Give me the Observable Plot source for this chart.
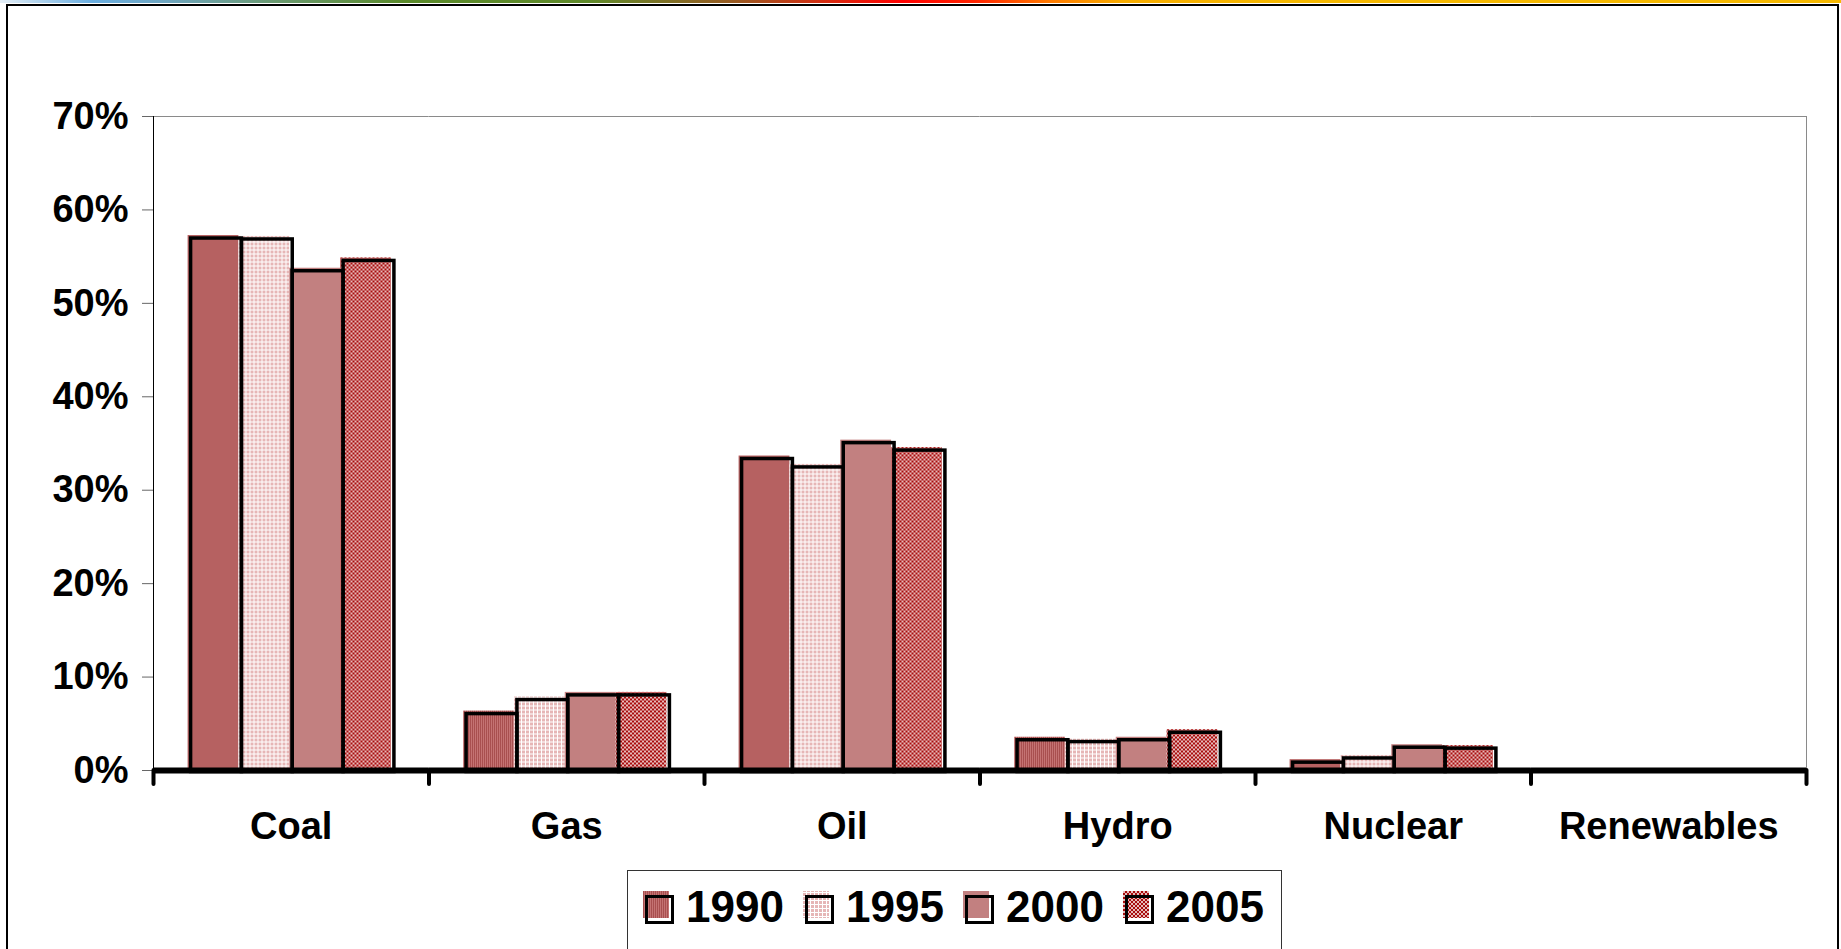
<!DOCTYPE html>
<html>
<head>
<meta charset="utf-8">
<script src="https://cdn.jsdelivr.net/npm/d3@7"></script>
<script src="https://cdn.jsdelivr.net/npm/@observablehq/plot@0.6"></script>
<style>
  html, body { margin: 0; padding: 0; background: #fff; }
  body { width: 1841px; height: 949px; overflow: hidden; position: relative; font-family: "Liberation Sans", Arial, sans-serif; }
  #strip { position: absolute; left: 0; top: 0; width: 1841px; height: 3px;
    background: linear-gradient(to right, #e4eef6 0%, #6aaee0 5%, #6fa6c0 9%, #6a9a70 15%, #5a8a2a 22%, #5f8a2a 32%, #9a5a22 40%, #d82a10 45%, #ff0000 49%, #ff2400 53%, #ff7a00 57%, #f7ac00 61%, #f5b800 70%, #f5b800 100%); }
  #frame { position: absolute; left: 6px; top: 4px; width: 1829px; height: 1000px; border: 2px solid #000; }
  #chart { position: absolute; left: 0; top: 0; }
  #chart svg { display: block; }
  #legend { position: absolute; left: 627px; top: 870px; width: 655px; height: 120px; box-sizing: border-box;
    border: 1px solid #333; background: #fff; padding: 18px 0 0 15px; display: flex; align-items: flex-start; }
  .item { width: 160px; height: 36px; display: flex; align-items: center; flex: none; }
  .item svg { flex: none; display: block; }
  .item span { margin-left: 9px; font-size: 44px; font-weight: bold; line-height: 36px; height: 36px; color: #000; display: block; }
</style>
</head>
<body>
<svg width="0" height="0" style="position:absolute">
  <defs>
    <pattern id="p1990" width="2" height="2" patternUnits="userSpaceOnUse">
      <rect x="0" y="0" width="1" height="2" fill="#a84f4f"></rect>
      <rect x="1" y="0" width="1" height="2" fill="#c47373"></rect>
    </pattern>
    <pattern id="p1995" width="4" height="4" patternUnits="userSpaceOnUse">
      <rect x="0" y="0" width="4" height="4" fill="#ffffff"></rect>
      <rect x="0" y="0" width="3" height="3" fill="#e6b6b6"></rect>
    </pattern>
    <pattern id="p2000" width="2" height="2" patternUnits="userSpaceOnUse">
      <rect x="0" y="0" width="2" height="2" fill="#c28080"></rect>
    </pattern>
    <pattern id="p2005" width="4" height="4" patternUnits="userSpaceOnUse">
      <rect x="0" y="0" width="4" height="4" fill="#e6baba"></rect>
      <rect x="0" y="0" width="2" height="2" fill="#a80c0c"></rect>
      <rect x="2" y="2" width="2" height="2" fill="#a80c0c"></rect>
    </pattern>
  </defs>
</svg>
<div id="strip"></div>
<div id="frame"></div>
<div id="chart"></div>
<div id="legend"></div>
<script>
// ---- data ----
const categories = ["Coal", "Gas", "Oil", "Hydro", "Nuclear", "Renewables"];
const years = ["1990", "1995", "2000", "2005"];
const share1990 = [57.1, 6.2, 33.5, 3.4, 1.0, 0];
const share1995 = [57.0, 7.7, 32.6, 3.2, 1.45, 0];
const share2000 = [53.6, 8.2, 35.2, 3.4, 2.6, 0];
const share2005 = [54.7, 8.2, 34.4, 4.2, 2.5, 0];
const yTicks = [0, 10, 20, 30, 40, 50, 60, 70];
const yTickLabels = ["0%", "10%", "20%", "30%", "40%", "50%", "60%", "70%"];
const patternFills = ["url(#p1990)", "url(#p1995)", "url(#p2000)", "url(#p2005)"];

const series = [share1990, share1995, share2000, share2005];
const data = categories.flatMap((c, i) => years.map((y, j) => ({cat: c, year: y, value: series[j][i]})));

// ---- layout ----
const W = 1841, H = 870, ML = 153, MR = 35, MT = 116, MB = 100;
const bw = (W - ML - MR) / categories.length;
const font = "'Liberation Sans', Arial, sans-serif";

const chart = Plot.plot({
  width: W, height: H,
  marginLeft: ML, marginRight: MR, marginTop: MT, marginBottom: MB,
  style: {background: "transparent", fontFamily: font, overflow: "visible", color: "#000"},
  fx: {domain: categories, padding: 0, round: false, label: null},
  x: {domain: years, paddingInner: 0, paddingOuter: 0.71, round: false, axis: null},
  y: {domain: [0, 70], label: null},
  color: {type: "ordinal", domain: years, range: patternFills},
  marks: [
    Plot.barY(data, {fx: "cat", x: "year", y: "value", fill: "year", dx: -1.5, dy: -1.5}),
    Plot.barY(data.filter(d => d.value > 0), {fx: "cat", x: "year", y: "value", fill: "none", stroke: "#000", strokeWidth: 3.5, dx: 1.5, dy: 1.5}),
    Plot.ruleY([70], {stroke: "#8a8a8a", strokeWidth: 1}),
    Plot.frame({anchor: "right", facetAnchor: "right", stroke: "#8a8a8a"}),
    Plot.frame({anchor: "left", facetAnchor: "left", stroke: "#000"}),
    Plot.ruleY([0], {stroke: "#000", strokeWidth: 6}),
    Plot.axisY({ticks: yTicks, tickFormat: d => yTickLabels[yTicks.indexOf(d)], tickSize: 11, tickPadding: 14,
      fontSize: 38, fontWeight: "bold", fill: "#000", stroke: "#666", label: null}),
    Plot.axisFx({anchor: "bottom", tickSize: 0, tickPadding: 42, fontSize: 38, fontWeight: "bold", fill: "#000", label: null}),
    Plot.axisFx({anchor: "bottom", text: null, tickSize: 14, strokeWidth: 4, stroke: "#000", strokeLinecap: "round", dx: -bw / 2, label: null}),
    Plot.axisFx({anchor: "bottom", ticks: [categories[categories.length - 1]], text: null, tickSize: 14, strokeWidth: 4, stroke: "#000", strokeLinecap: "round", dx: bw / 2, label: null})
  ]
});
document.getElementById("chart").appendChild(chart);

// ---- legend ----
const legend = d3.select("#legend");
years.forEach((y, i) => {
  const item = legend.append("div").attr("class", "item");
  const svg = item.append("svg").attr("width", 34).attr("height", 36);
  svg.append("rect").attr("x", 0).attr("y", 2).attr("width", 26).attr("height", 27).attr("fill", patternFills[i]);
  svg.append("rect").attr("x", 3.5).attr("y", 7.5).attr("width", 26).attr("height", 26)
    .attr("fill", "none").attr("stroke", "#000").attr("stroke-width", 3);
  item.append("span").text(y);
});
</script>
</body>
</html>
